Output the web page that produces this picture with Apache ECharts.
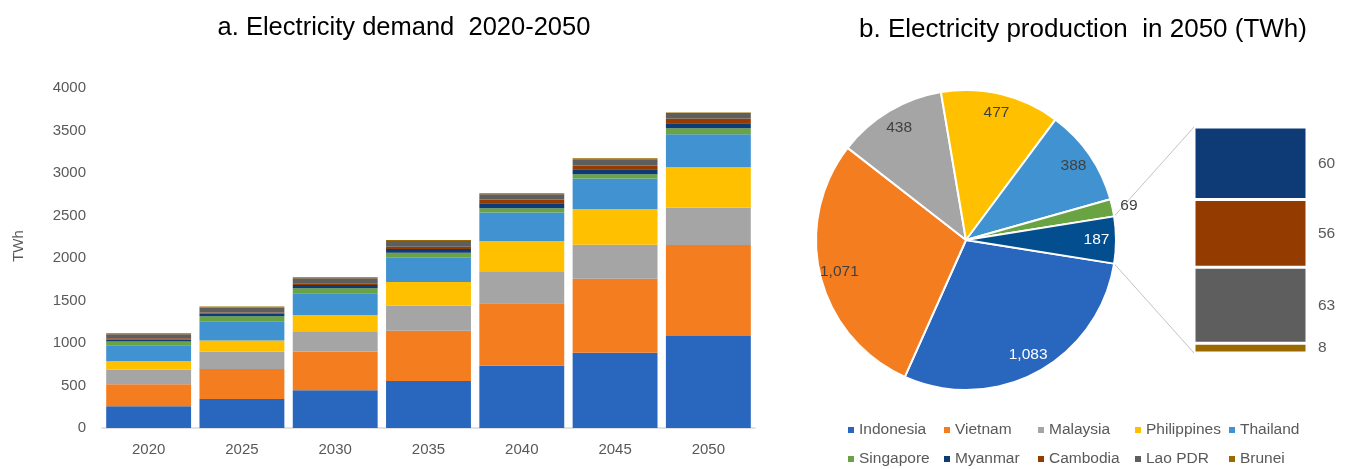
<!DOCTYPE html>
<html>
<head>
<meta charset="utf-8">
<title>ASEAN electricity demand and production</title>
<script src="https://cdn.jsdelivr.net/npm/echarts@6/dist/echarts.min.js"></script>
<style>
  html, body { margin: 0; padding: 0; background: #ffffff; }
  #chart { width: 1345px; height: 469px; }
</style>
</head>
<body>
<div id="chart"></div>
<script>
// Electricity demand by country, TWh
const years = ['2020', '2025', '2030', '2035', '2040', '2045', '2050'];
const countries = ['Indonesia', 'Vietnam', 'Malaysia', 'Philippines', 'Thailand',
                   'Singapore', 'Myanmar', 'Cambodia', 'Lao PDR', 'Brunei'];
const indonesia   = [255, 342, 444, 554, 731, 884, 1083];
const vietnam     = [260, 353, 456, 589, 738, 872, 1071];
const malaysia    = [169, 205, 239, 295, 374, 401, 438];
const philippines = [102, 129, 189, 279, 357, 420, 477];
const thailand    = [188, 228, 256, 286, 334, 357, 388];
const singapore   = [43, 59, 59, 59, 51, 51, 69];
const myanmar     = [24, 27, 39, 43, 59, 59, 60];
const cambodia    = [14, 16, 20, 27, 43, 43, 56];
const laoPdr      = [47, 59, 59, 67, 63, 75, 63];
const brunei      = [12, 12, 12, 14, 12, 12, 8];
const demandTicks = [0, 500, 1000, 1500, 2000, 2500, 3000, 3500, 4000];

// 2050 production, TWh: main pie plus the smaller producers broken out
const pieNames  = ['Indonesia', 'Vietnam', 'Malaysia', 'Philippines', 'Thailand', 'Singapore'];
const pieValues = [1083, 1071, 438, 477, 388, 69];
const detailNames  = ['Myanmar', 'Cambodia', 'Lao PDR', 'Brunei'];
const detailValues = [60, 56, 63, 8];

const colors = {
  'Indonesia': '#2966be', 'Vietnam': '#f47d20', 'Malaysia': '#a5a5a5',
  'Philippines': '#ffc000', 'Thailand': '#4192d1', 'Singapore': '#69a342',
  'Myanmar': '#0e3a76', 'Cambodia': '#943c00', 'Lao PDR': '#5e5e5e',
  'Brunei': '#9a6a00', 'Other': '#024e8e'
};
const demand = [indonesia, vietnam, malaysia, philippines, thailand,
                singapore, myanmar, cambodia, laoPdr, brunei];

const FONT = "'Liberation Sans', Arial, sans-serif";
const TEXT_GREY = '#595959';
const PIE = { cx: 966, cy: 240, r: 150 };
const STACK = { left: 1194, top: 127, width: 113, height: 226 };

const otherTotal = detailValues.reduce((a, b) => a + b, 0);
const pieTotal = pieValues.reduce((a, b) => a + b, 0) + otherTotal;
const halfOther = otherTotal / pieTotal * 180;   // degrees, Other slice centred on 3 o'clock

const pieData = pieNames.map((n, i) => ({ name: n, value: pieValues[i], itemStyle: { color: colors[n] } }));
pieData.push({ name: 'Other', value: otherTotal, itemStyle: { color: colors['Other'] } });

const whiteLabels = { 'Indonesia': true, 'Other': true };
const labelData = pieData.map(d => {
  const item = {
    name: d.name, value: d.value,
    label: { color: whiteLabels[d.name] ? '#ffffff' : '#404040' }
  };
  if (d.name === 'Singapore') {
    item.label.position = 'outside';
    item.label.distanceToLabelLine = 0;
    item.labelLine = { show: false, length: 8, length2: 0 };
  }
  return item;
});

const fmt = v => Number(v).toLocaleString('en-US');

const series = [];
countries.forEach((c, i) => {
  series.push({
    name: c, type: 'bar', stack: 'demand',
    xAxisIndex: 0, yAxisIndex: 0,
    barCategoryGap: '9%',
    itemStyle: { color: colors[c] },
    emphasis: { disabled: true },
    data: demand[i]
  });
});

series.push({
  name: 'Production 2050', type: 'pie',
  center: [PIE.cx, PIE.cy], radius: [0, PIE.r],
  startAngle: -halfOther, clockwise: true,
  avoidLabelOverlap: false,
  itemStyle: { borderColor: '#ffffff', borderWidth: 2 },
  label: { show: false }, labelLine: { show: false },
  emphasis: { disabled: true },
  data: pieData
});

// value labels sit in an outer transparent ring so they land near the rim
series.push({
  name: 'Production labels', type: 'pie', silent: true,
  center: [PIE.cx, PIE.cy], radius: [PIE.r * 0.7, PIE.r],
  startAngle: -halfOther, clockwise: true,
  avoidLabelOverlap: false,
  itemStyle: { color: 'rgba(0,0,0,0)', borderWidth: 0 },
  label: {
    show: true, position: 'inside', fontFamily: FONT, fontSize: 15.5,
    formatter: p => fmt(p.value)
  },
  labelLine: { show: false },
  emphasis: { disabled: true },
  data: labelData
});

// breakdown of the Other slice, stacked bottom to top
for (let i = detailNames.length - 1; i >= 0; i--) {
  const n = detailNames[i];
  series.push({
    name: n, type: 'bar', stack: 'detail',
    xAxisIndex: 1, yAxisIndex: 1,
    barWidth: '100%',
    itemStyle: { color: colors[n], borderColor: '#ffffff', borderWidth: 1.5 },
    label: {
      show: true, position: 'right', distance: 11,
      color: TEXT_GREY, fontFamily: FONT, fontSize: 15.5,
      formatter: p => fmt(p.value)
    },
    emphasis: { disabled: true },
    data: [detailValues[i]]
  });
}

// legend laid out as a fixed 5 x 2 table
const legendCols = [848, 944, 1038, 1135, 1229];
const legendRows = [422, 451];
const legends = countries.map((c, i) => ({
  data: [c],
  left: legendCols[i % 5], top: legendRows[Math.floor(i / 5)],
  padding: 0, icon: 'rect', itemWidth: 6, itemHeight: 6, itemGap: 0,
  selectedMode: false,
  textStyle: { color: TEXT_GREY, fontFamily: FONT, fontSize: 15.5, padding: [0, 0, 0, 0] }
}));

// connector lines between the Other slice and its breakdown bar
const rad = halfOther * Math.PI / 180;
const edgeX = PIE.cx + PIE.r * Math.cos(rad);
const connectors = [
  [edgeX, PIE.cy - PIE.r * Math.sin(rad), STACK.left, STACK.top],
  [edgeX, PIE.cy + PIE.r * Math.sin(rad), STACK.left, STACK.top + STACK.height]
].map(s => ({
  type: 'line', silent: true, z: -1,
  shape: { x1: s[0], y1: s[1], x2: s[2], y2: s[3] },
  style: { stroke: '#c4c4c4', lineWidth: 1 }
}));

const option = {
  backgroundColor: '#ffffff',
  animation: false,
  textStyle: { fontFamily: FONT },
  title: [
    { text: 'a. Electricity demand  2020-2050', left: 399, top: 10, textAlign: 'center',
      textStyle: { fontFamily: FONT, fontSize: 25.5, fontWeight: 'normal', color: '#000000' } },
    { text: 'b. Electricity production  in 2050 (TWh)', left: 1078, top: 12, textAlign: 'center',
      textStyle: { fontFamily: FONT, fontSize: 26, fontWeight: 'normal', color: '#000000' } }
  ],
  legend: legends,
  grid: [
    { left: 102, top: 88, width: 653, height: 340 },
    { left: STACK.left, top: STACK.top, width: STACK.width, height: STACK.height }
  ],
  xAxis: [
    { type: 'category', gridIndex: 0, data: years,
      axisLine: { lineStyle: { color: '#d9d9d9', width: 1.5 } },
      axisTick: { show: false },
      axisLabel: { color: TEXT_GREY, fontFamily: FONT, fontSize: 15, margin: 14 } },
    { type: 'category', gridIndex: 1, data: ['Other'], show: false }
  ],
  yAxis: [
    { type: 'value', gridIndex: 0,
      min: demandTicks[0], max: demandTicks[demandTicks.length - 1],
      interval: demandTicks[1] - demandTicks[0],
      name: 'TWh', nameLocation: 'middle', nameGap: 76, nameRotate: 90,
      nameTextStyle: { color: TEXT_GREY, fontFamily: FONT, fontSize: 15, padding: [0, 0, 0, 24] },
      axisLine: { show: false }, axisTick: { show: false },
      splitLine: { show: false },
      axisLabel: { color: TEXT_GREY, fontFamily: FONT, fontSize: 15, margin: 16,
                   formatter: v => String(v) } },
    { type: 'value', gridIndex: 1, min: 0, max: otherTotal, show: false, splitLine: { show: false } }
  ],
  graphic: connectors,
  series: series
};

const chart = echarts.init(document.getElementById('chart'), null, { renderer: 'canvas' });
chart.setOption(option);
</script>
</body>
</html>
